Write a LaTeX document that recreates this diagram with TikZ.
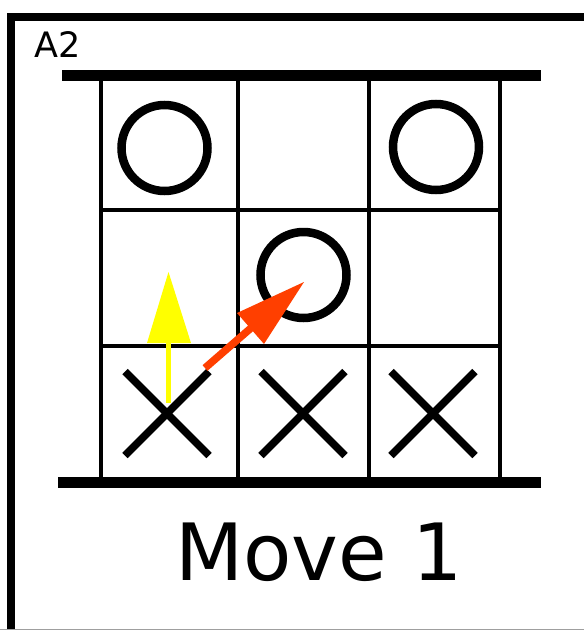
\documentclass[tikz,border=0pt]{standalone}
\usepackage{fontspec}
\setmainfont{DejaVu Sans}
\definecolor{arrred}{HTML}{FF3F00}
\definecolor{arryel}{HTML}{FFFF00}
\begin{document}
\begin{tikzpicture}[x=1pt,y=-1pt,
  gridline/.style={line width=4pt},
  bar/.style={line width=11pt},
  omark/.style={line width=8.5pt},
  xmark/.style={line width=7.5pt},
  frameline/.style={line width=8pt}]
\useasboundingbox (0,0) rectangle (584,630);
% outer frame
\draw[frameline] (11,640) -- (11,17) -- (590,17);
\draw[gray!75, line width=1.2pt] (0,629.4) -- (584,629.4);
% label
\node[anchor=base west, inner sep=0pt, font=\fontsize{35}{40}\selectfont] (lab) at (34,57) {A2};
% grid
\draw[gridline] (101,75) -- (101,482);
\draw[gridline] (237.5,75) -- (237.5,482);
\draw[gridline] (369,75) -- (369,482);
\draw[gridline] (499.5,75) -- (499.5,482);
\draw[gridline] (101,210) -- (499.5,210);
\draw[gridline] (101,345.5) -- (499.5,345.5);
\draw[bar] (62,75.5) -- (541,75.5);
\draw[bar] (58,482.5) -- (541,482.5);
% O marks
\draw[omark] (164.5,148) circle (43);
\draw[omark] (436,147) circle (43);
\draw[omark] (303.5,275) circle (43);
% X marks
\foreach \cx in {167,303,433}{
  \draw[xmark] (\cx-42,371.5) -- (\cx+42,455.5);
  \draw[xmark] (\cx+42,371.5) -- (\cx-42,455.5);
}
% yellow arrow
\coordinate (ytail) at (168.5,403);
\coordinate (ytip) at (168.5,272);
\fill[arryel] (166,343) rectangle (171,403);
\fill[arryel] (ytip) -- (147,343) -- (191,343) -- cycle;
% red arrow
\coordinate (rtail) at (205,368);
\coordinate (rtip) at (304,282);
\draw[arrred, line width=7.5pt] (rtail) -- (251,328);
\fill[arrred] (rtip) -- (237,313) -- (264,344) -- cycle;
% caption
\node[anchor=base west, inner sep=0pt, font=\fontsize{79}{90}\selectfont] (cap) at (175,580) {Move 1};
\end{tikzpicture}
\end{document}
